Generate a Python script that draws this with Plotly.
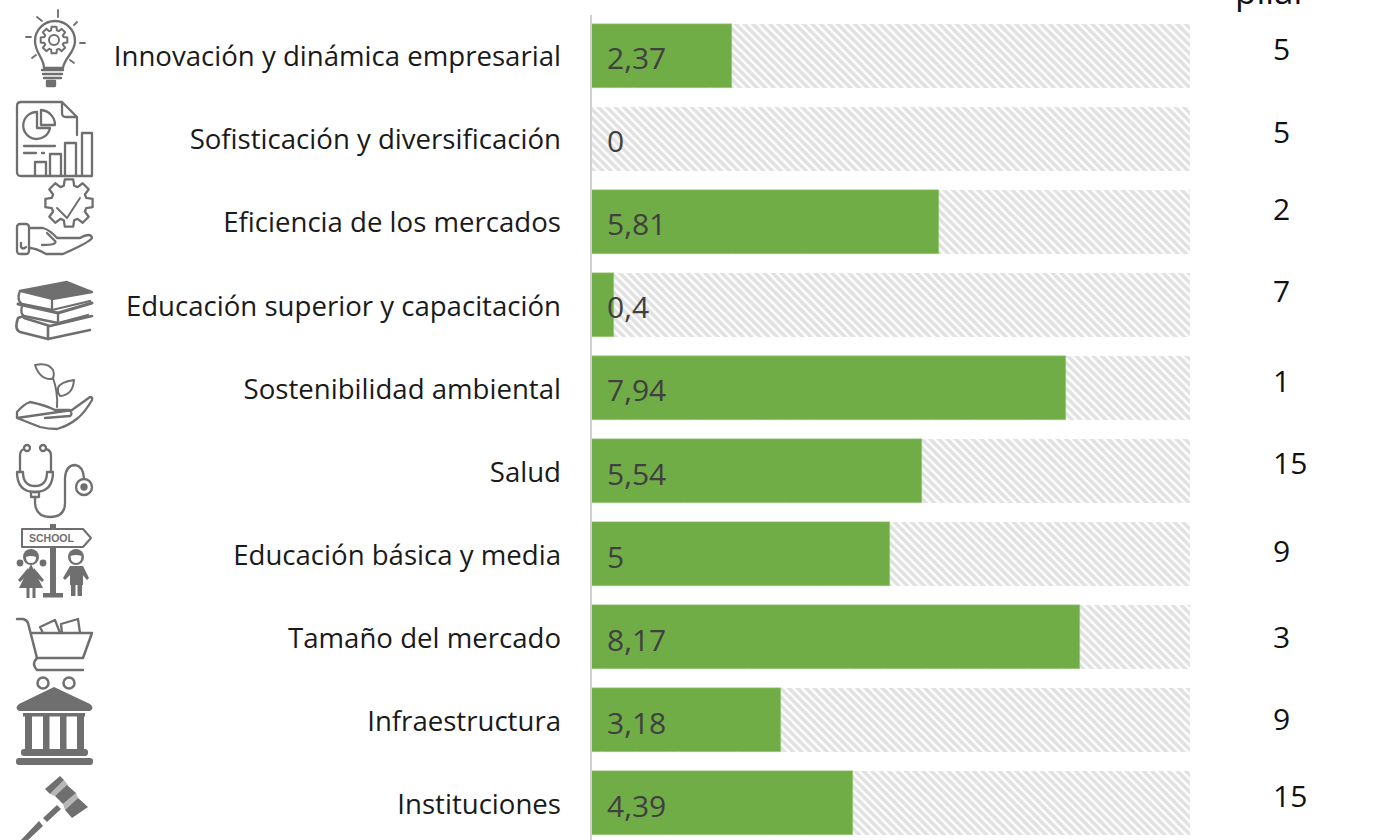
import math, base64
import plotly.graph_objects as go

categories = ["Innovación y dinámica empresarial", "Sofisticación y diversificación",
              "Eficiencia de los mercados", "Educación superior y capacitación",
              "Sostenibilidad ambiental", "Salud", "Educación básica y media",
              "Tamaño del mercado", "Infraestructura", "Instituciones"]
values = [2.37, 0, 5.81, 0.4, 7.94, 5.54, 5, 8.17, 3.18, 4.39]
maximum = [10] * 10
value_labels = ["2,37", "0", "5,81", "0,4", "7,94", "5,54", "5", "8,17", "3,18", "4,39"]
ranks = [5, 5, 2, 7, 1, 15, 9, 3, 9, 15]

# layout constants (pixels on the 1380x840 page)
W, H = 1380, 840
L, R, T, B = 590, 1190, 14, 840
rank_y = [48.5, 131.5, 208.5, 290.5, 380.5, 462.5, 550.5, 636.5, 718.5, 795.5]
FONT = "Open Sans"

def px(x):
    return (x - L) / (R - L)

def py(y):
    return 1 - (y - T) / (B - T)

def gear(cx, cy, ro, ri, n):
    pts = []
    step = 2 * math.pi / n
    for i in range(n):
        a = i * step - math.pi / 2
        for da, r in ((-0.30, ri), (-0.18, ro), (0.18, ro), (0.30, ri)):
            t = a + da * step / 0.8
            pts.append(f"{cx + r * math.cos(t):.1f},{cy + r * math.sin(t):.1f}")
    return "M" + " L".join(pts) + " Z"

C = "#6f6f6f"
icons = f'''
<g fill="none" stroke="{C}" stroke-width="2.3" stroke-linecap="round" stroke-linejoin="round">
<!-- bulb -->
<path d="M58,10V17M37,17L42,21M77,22L74,25M26,37H31M80,43H85M32,58L36,55M70,60L74,63" stroke-width="1.8"/>
<path d="M44,68C44,58 35,53 35,41A20,20 0 1 1 75,41C75,53 64,58 63,68Z"/>
<path d="{gear(54, 40, 13.5, 10, 8)}" stroke-width="2"/><circle cx="54" cy="40" r="5" stroke-width="2"/>
<path d="M42,70H63M43,74H62M44,78H61" stroke-width="2.4"/>
<path d="M47,81H55V86H47Z" fill="{C}"/>
<!-- report -->
<path d="M17,106Q17,102 21,102H62L77,117V135M17,106V172Q17,176 21,176H92M62,102V113Q62,117 66,117H77"/>
<path d="M37,112A13.5,13.5 0 1 0 50,128H37ZM41,110A15,15 0 0 1 55,125H41Z"/>
<path d="M24,146H55M24,153H36M42,153H44"/>
<path d="M35,175V162H46V175M50,175V154H61V175M65,175V143H76V175M82,175V133H92V175"/>
<!-- gear hand -->
<path d="{gear(69, 203, 24, 18, 8)}"/>
<path d="M57,208L67,218L80,198" stroke-width="2"/>
<rect x="17" y="224" width="12" height="30" rx="3"/><path d="M21,243V247Q23,250 26,247"/>
<path d="M29,228H43Q50,230 57,238H80Q91,232 92,238Q90,242 63,254H46Q36,248 29,248M47,233L55,241Q58,245 42,245"/>
<!-- books -->
<path d="M20,291L67,282L92,292L52,299Z" fill="{C}"/>
<path d="M20,291Q16,300 22,304L52,310L90,301M52,299V310"/>
<path d="M18,304L58,313L92,303" stroke-width="3"/>
<path d="M22,306Q20,314 24,316L58,323L88,315M58,313V323"/>
<path d="M24,316L18,318Q14,330 20,332L48,339L90,330" stroke-width="2.6"/>
<path d="M24,318L50,326L92,316M48,327V339" stroke-width="2.6"/>
<!-- plant hand -->
<path d="M17,418V412Q24,404 30,402Q45,405 55,410H70Q73,414 70,416L45,418M72,410L90,397Q93,397 92,400Q85,412 78,418Q68,426 57,429Q48,429 40,427L17,418Z"/>
<path d="M57,407Q58,392 53,378M35,365Q48,362 53,370Q55,376 52,379Q40,380 35,365ZM74,380Q60,382 58,388Q57,392 60,396Q73,395 74,380Z" stroke-width="2"/>
<!-- stethoscope -->
<circle cx="27" cy="448" r="3"/><circle cx="43" cy="448" r="3"/>
<path d="M24,449Q20,450 20,456V472M46,449Q51,450 51,456V472"/>
<path d="M17,472H23Q23,486 35,486Q47,486 47,472H53Q53,492 35,492Q17,492 17,472Z"/>
<path d="M31,492H39V497H31Z"/>
<path d="M35,497V503Q36,517 50,517Q65,517 65,503V478Q66,465 75,465Q83,466 84,478"/>
<circle cx="84" cy="487" r="8"/><circle cx="84" cy="487" r="2.5" fill="{C}"/>
<!-- school -->
<path d="M22,529H83L91,538L83,547H22Z" stroke-width="2"/>
</g>
<g fill="{C}" stroke="none">
<rect x="50" y="524" width="6" height="5"/><rect x="50" y="547" width="6" height="46"/>
<rect x="43" y="593" width="20" height="4.5"/>
<circle cx="31" cy="557" r="8"/><circle cx="20" cy="563" r="3.4"/><circle cx="43" cy="563" r="3.4"/>
<path d="M31,564L43,588H19Z"/><path d="M28,568L18,580L20,582L29,574ZM34,568L44,580L42,582L33,574Z"/>
<rect x="26.5" y="587" width="3" height="11"/><rect x="32.5" y="587" width="3" height="11"/>
<circle cx="76" cy="557" r="8"/><rect x="70" y="566" width="13" height="19"/>
<rect x="71" y="585" width="4.5" height="11"/><rect x="77.5" y="585" width="4.5" height="11"/>
<path d="M70,566L63,578L65,580L72,573ZM83,566L89,578L87,580L81,573Z"/>
</g>
<path d="M26,557Q31,555 36,557Q36,563 31,563Q26,563 26,557Z" fill="#fff"/>
<path d="M70.5,556Q76,554 81.5,556Q81.5,563 76,563Q70.5,563 70.5,556Z" fill="#fff"/>
<g fill="none" stroke="{C}" stroke-width="2.5" stroke-linecap="round" stroke-linejoin="round">
<!-- cart -->
<path d="M17,619H23Q27,620 28,623L37,658H83L92,633H32"/>
<path d="M37,658Q31,664 37,670H83"/>
<circle cx="43" cy="683" r="5.5"/><circle cx="69" cy="683" r="5.5"/>
<path d="M43,633L40,627L55,620L60,633M62,633L61,624L78,619L80,633" stroke-width="2.3"/>
</g>
<g fill="{C}" stroke="none">
<!-- bank -->
<path d="M54,687L90,704Q95,708 90,711H19Q14,708 19,704Z"/>
<rect x="23" y="713" width="62" height="3.5"/>
<rect x="25" y="716" width="7" height="34"/><rect x="43" y="716" width="6.5" height="34"/>
<rect x="60" y="716" width="6.5" height="34"/><rect x="77" y="716" width="7" height="34"/>
<rect x="21" y="749" width="67" height="7" rx="3"/><rect x="16" y="758" width="77" height="7" rx="3"/>
<!-- gavel -->
<path d="M60,776L64,780L50,794L45,789Z"/><path d="M67,785L76,793L63,804L55,796Z"/>
<path d="M78,798L88,807L72,818L65,810Z"/><path d="M64,780L68,785L55,796L50,794Z" opacity="0.5"/><path d="M76,793L78,798L65,810L63,804Z" opacity="0.5"/>
<path d="M57,805L61,809L47,822L43,818Z"/><path d="M39,821L43,826L27,841H20Z"/>
</g>
'''
svg = f'<svg xmlns="http://www.w3.org/2000/svg" viewBox="0 0 110 {H}" width="110" height="{H}" preserveAspectRatio="none">{icons}</svg>'
icon_uri = "data:image/svg+xml;base64," + base64.b64encode(svg.encode()).decode()

fig = go.Figure()
fig.add_bar(y=categories, x=maximum, orientation="h", width=64 / 83.1, hoverinfo="skip",
            marker=dict(color="#ffffff", line_width=0,
                        pattern=dict(shape="\\", size=6, solidity=0.6,
                                     fgcolor="#c4c4c4", bgcolor="#ffffff")))
fig.add_bar(y=categories, x=values, orientation="h", width=64 / 83.1,
            marker=dict(color="#70ad47", line=dict(color="#a9d08e", width=0.5)))

annotations = []
for c, lab in zip(categories, value_labels):
    annotations.append(dict(x=0, y=c, xref="x", yref="y", text=lab, showarrow=False,
                            xanchor="left", yanchor="middle", xshift=15, yshift=-2,
                            font=dict(family=FONT, size=30, color="#404040")))
for r, y in zip(ranks, rank_y):
    annotations.append(dict(x=px(1271), y=py(y), xref="paper", yref="paper", text=str(r),
                            showarrow=False, xanchor="left", yanchor="middle",
                            font=dict(family=FONT, size=30, color="#111111")))
annotations.append(dict(x=px(1271.5), y=py(-9.5), xref="paper", yref="paper", text="pilar",
                        showarrow=False, xanchor="center", yanchor="middle",
                        font=dict(family=FONT, size=35, color="#111111")))
annotations.append(dict(x=px(52), y=py(538), xref="paper", yref="paper", text="<b>SCHOOL</b>",
                        showarrow=False, xanchor="center", yanchor="middle",
                        font=dict(family="Liberation Sans", size=10.5, color=C)))

fig.update_layout(
    width=W, height=H, barmode="overlay", showlegend=False, bargap=0,
    paper_bgcolor="#ffffff", plot_bgcolor="#ffffff",
    margin=dict(l=L, r=W - R, t=T, b=H - B, pad=0, autoexpand=False),
    xaxis=dict(range=[0, 10], visible=False, fixedrange=True),
    yaxis=dict(type="category", categoryorder="array", categoryarray=categories,
               range=[(B - T) / 83.1 - 0.5, -0.5], showgrid=False, zeroline=False,
               showline=False, ticks="", ticklabelstandoff=28, ticklabelshift=-1,
               automargin=False, fixedrange=True,
               tickfont=dict(family=FONT, size=27.6, color="#1a1a1a")),
    annotations=annotations,
    shapes=[dict(type="line", xref="paper", yref="paper", x0=px(591), x1=px(591), y0=0, y1=py(15),
                 line=dict(color="#d0d0d0", width=2), layer="above")],
    images=[dict(source=icon_uri, xref="paper", yref="paper", x=px(0), y=py(0),
                 sizex=110 / (R - L), sizey=H / (B - T), xanchor="left", yanchor="top",
                 sizing="stretch", layer="above")],
)
fig.write_html("out.html", config={"displayModeBar": False},
               post_script="document.body.style.margin='0';document.documentElement.style.overflow='hidden';")
